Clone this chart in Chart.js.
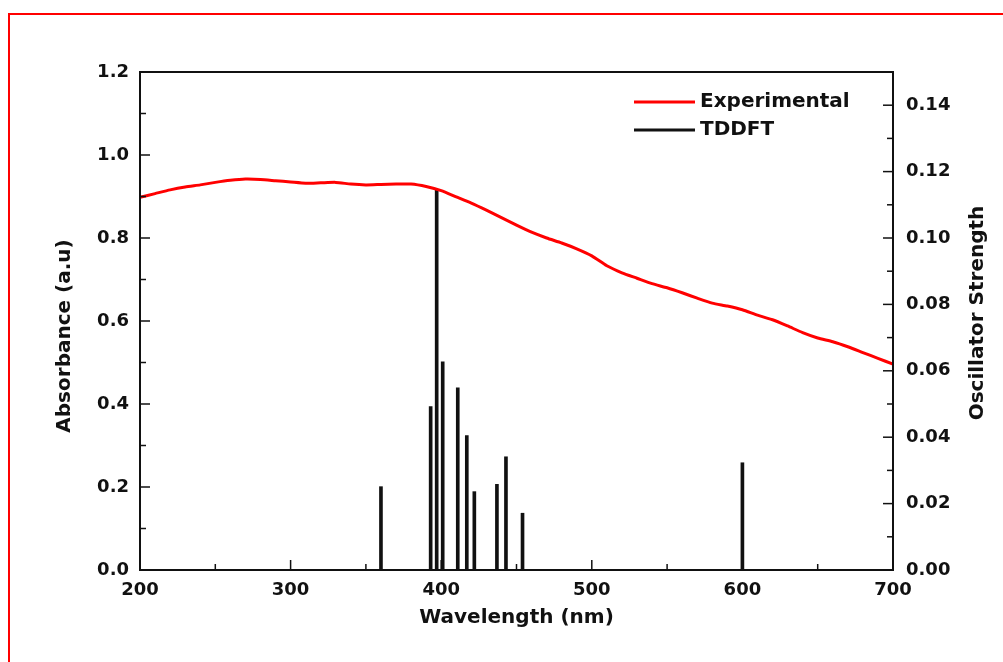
<!DOCTYPE html>
<html>
<head>
<meta charset="utf-8">
<script src="https://cdn.jsdelivr.net/npm/chart.js@4.4.0/dist/chart.umd.min.js"></script>
<style>
  html, body { margin: 0; padding: 0; background: #fff; overflow: hidden; }
  #wrap { position: relative; width: 1003px; height: 662px; }
  #frame { position: absolute; left: 8px; top: 13px; width: 1100px; height: 800px; border: 2px solid #ff0000; pointer-events: none; }
</style>
</head>
<body>
<div id="wrap">
  <canvas id="spectrum" width="1003" height="662"></canvas>
  <div id="frame"></div>
</div>
<script>
// measured UV-Vis absorbance
const wavelengths = [200, 210, 220, 230, 240, 250, 260, 270, 280, 290, 300, 310, 320, 330, 340, 350,
  360, 370, 380, 390, 400, 410, 420, 430, 440, 450, 460, 470, 480, 490, 500, 510, 520, 530, 540,
  550, 560, 570, 580, 590, 600, 610, 620, 630, 640, 650, 660, 670, 680, 690, 700];
const absorbance = [0.898, 0.907, 0.916, 0.923, 0.928, 0.934, 0.939, 0.942, 0.941, 0.938, 0.935,
  0.932, 0.933, 0.934, 0.930, 0.928, 0.929, 0.930, 0.930, 0.924, 0.914, 0.899, 0.884, 0.867, 0.849,
  0.831, 0.814, 0.800, 0.788, 0.774, 0.757, 0.733, 0.716, 0.703, 0.690, 0.680, 0.668, 0.655, 0.643,
  0.636, 0.627, 0.614, 0.603, 0.588, 0.572, 0.559, 0.550, 0.538, 0.524, 0.510, 0.496];

// TDDFT excitations
const stickWavelengths = [360, 393, 397, 401, 411, 417, 422, 437, 443, 454, 600];
const stickStrengths = [0.0251, 0.0492, 0.1145, 0.0627, 0.0549, 0.0405, 0.0236, 0.0258, 0.0341, 0.0171, 0.0323];

const xTicks = [200, 300, 400, 500, 600, 700];
const xMinorTicks = [250, 350, 450, 550, 650];
const absTicks = [0, 0.2, 0.4, 0.6, 0.8, 1.0, 1.2];
const absMinorTicks = [0.1, 0.3, 0.5, 0.7, 0.9, 1.1];
const oscTicks = [0, 0.02, 0.04, 0.06, 0.08, 0.10, 0.12, 0.14];
const oscMinorTicks = [0.01, 0.03, 0.05, 0.07, 0.09, 0.11, 0.13];

const FONT = "'DejaVu Sans', 'Liberation Sans', Arial, sans-serif";
const INK = "#111";

const setTicks = (values) => (scale) => {
  scale.ticks = values.map((v) => ({ value: v }));
};

// frame, inward tick marks, titles and the in-plot legend
const decorations = {
  id: "decorations",
  afterDraw(chart) {
    const { ctx, chartArea: a, scales } = chart;
    ctx.save();
    ctx.strokeStyle = INK;
    ctx.lineWidth = 2;
    ctx.strokeRect(a.left, a.top, a.right - a.left, a.bottom - a.top);

    ctx.lineWidth = 1.5;
    const mark = (x1, y1, x2, y2) => {
      ctx.beginPath();
      ctx.moveTo(x1, y1);
      ctx.lineTo(x2, y2);
      ctx.stroke();
    };
    xTicks.forEach((v) => { const p = scales.x.getPixelForValue(v); mark(p, a.bottom, p, a.bottom - 10); });
    xMinorTicks.forEach((v) => { const p = scales.x.getPixelForValue(v); mark(p, a.bottom, p, a.bottom - 6); });
    absTicks.forEach((v) => { const p = scales.y.getPixelForValue(v); mark(a.left, p, a.left + 10, p); });
    absMinorTicks.forEach((v) => { const p = scales.y.getPixelForValue(v); mark(a.left, p, a.left + 6, p); });
    oscTicks.forEach((v) => { const p = scales.y2.getPixelForValue(v); mark(a.right, p, a.right - 10, p); });
    oscMinorTicks.forEach((v) => { const p = scales.y2.getPixelForValue(v); mark(a.right, p, a.right - 6, p); });

    // axis titles
    ctx.fillStyle = INK;
    ctx.font = "bold 20px " + FONT;
    ctx.textAlign = "center";
    ctx.textBaseline = "middle";
    ctx.fillText("Wavelength (nm)", (a.left + a.right) / 2, 618);

    ctx.save();
    ctx.translate(65, 336);
    ctx.rotate(-Math.PI / 2);
    ctx.fillText("Absorbance (a.u)", 0, 0);
    ctx.restore();

    ctx.save();
    ctx.translate(978, 313);
    ctx.rotate(-Math.PI / 2);
    ctx.fillText("Oscillator Strength", 0, 0);
    ctx.restore();

    // legend
    const rows = [
      { label: chart.data.datasets[0].label, color: chart.data.datasets[0].borderColor, y: 102 },
      { label: chart.data.datasets[1].label, color: chart.data.datasets[1].backgroundColor, y: 130 },
    ];
    ctx.textAlign = "left";
    rows.forEach((r) => {
      ctx.strokeStyle = r.color;
      ctx.lineWidth = 3;
      mark(634, r.y, 695, r.y);
      ctx.fillStyle = INK;
      ctx.fillText(r.label, 700, r.y);
    });
    ctx.restore();
  },
};

new Chart(document.getElementById("spectrum"), {
  type: "line",
  data: {
    datasets: [
      {
        label: "Experimental",
        data: wavelengths.map((w, i) => ({ x: w, y: absorbance[i] })),
        borderColor: "#ff0000",
        borderWidth: 3,
        pointRadius: 0,
        tension: 0.2,
        yAxisID: "y",
        order: 1,
      },
      {
        type: "bar",
        label: "TDDFT",
        data: stickWavelengths.map((w, i) => ({ x: w, y: stickStrengths[i] })),
        backgroundColor: "#111",
        borderWidth: 0,
        barThickness: 3,
        grouped: false,
        yAxisID: "y2",
        order: 2,
      },
    ],
  },
  options: {
    responsive: false,
    animation: false,
    events: [],
    layout: { padding: { top: 72, left: 0, right: 0, bottom: 0 } },
    plugins: {
      legend: { display: false },
      tooltip: { enabled: false },
    },
    scales: {
      x: {
        type: "linear",
        min: 200,
        max: 700,
        offset: false,
        afterFit: (s) => { s.height = 92; },
        afterBuildTicks: setTicks(xTicks),
        grid: { display: false, drawTicks: false, offset: false },
        border: { display: false },
        ticks: { padding: 10, color: INK, font: { family: FONT, size: 18, weight: "bold" } },
      },
      y: {
        type: "linear",
        position: "left",
        min: 0,
        max: 1.2,
        afterFit: (s) => { s.width = 140; },
        afterBuildTicks: setTicks(absTicks),
        grid: { display: false, drawTicks: false },
        border: { display: false },
        ticks: {
          padding: 11,
          color: INK,
          font: { family: FONT, size: 18, weight: "bold" },
          callback: (v) => v.toFixed(1),
        },
      },
      y2: {
        type: "linear",
        position: "right",
        min: 0,
        max: 0.15,
        afterFit: (s) => { s.width = 110; },
        afterBuildTicks: setTicks(oscTicks),
        grid: { display: false, drawTicks: false },
        border: { display: false },
        ticks: {
          padding: 13,
          color: INK,
          font: { family: FONT, size: 18, weight: "bold" },
          callback: (v) => v.toFixed(2),
        },
      },
    },
  },
  plugins: [decorations],
});
</script>
</body>
</html>
